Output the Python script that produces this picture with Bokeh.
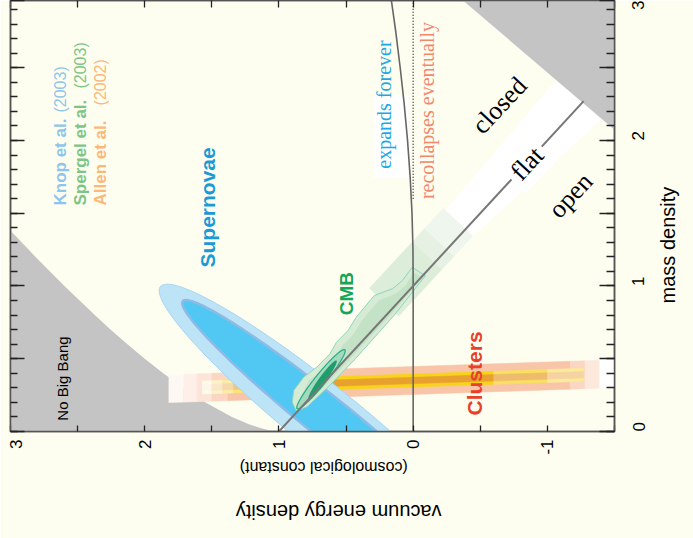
import numpy as np
from math import pi
from bokeh.plotting import figure
from bokeh.models import Range1d, LinearAxis, FixedTicker, Label, CustomJSTickFormatter
from bokeh.embed import file_html
from bokeh.resources import INLINE

# ---------------- data (x = vacuum energy density, y = mass density) ----------------
nobang_om = [0.0, 0.005, 0.01, 0.02, 0.05, 0.1, 0.2, 0.3, 0.4, 0.5, 0.6, 0.7, 0.8, 1.0, 1.2, 1.36, 1.4]
nobang_ol = [1.0, 1.051, 1.08, 1.124, 1.224, 1.35, 1.547, 1.713, 1.862, 2.0, 2.129, 2.253, 2.372, 2.598, 2.813, 2.98, 3.018]
recol_om = [0.0, 1.0, 1.25, 1.5, 1.75, 2.0, 2.25, 2.5, 2.75, 3.0]
recol_ol = [0.0, 0.0, 0.0015, 0.0086, 0.0225, 0.0419, 0.0667, 0.0966, 0.130, 0.168]
dotted_om = [1.6, 3.0]
dotted_ol = [0.0, 0.0]
flat_om = [0.0, 2.27]
flat_ol = [1.0, -1.27]
grey2_ol = [-0.30, -1.60]
grey2_om = [3.018, 1.995]

sn_outer = {"c": (0.645, 0.0756), "a": (-1.238, -0.920), "b": (0.151, -0.177)}
sn_inner = {"c": (0.6225, 0.0825), "a": (-1.094, -0.813), "b": (0.0962, -0.1129)}

cmb_outer_ol = [0.901, 0.890, 0.816, 0.718, 0.620, 0.571, 0.485, 0.424, 0.363, 0.289, 0.154, 0.080, 0.007,
                -0.09, 0.14, 0.43, 0.63, 0.79, 0.87]
cmb_outer_om = [0.201, 0.282, 0.373, 0.442, 0.534, 0.614, 0.694, 0.786, 0.854, 0.935, 0.981, 1.038, 1.129,
                1.07, 0.80, 0.50, 0.31, 0.17, 0.14]
cmb_inner_ol = [0.843, 0.777, 0.681, 0.586, 0.527, 0.446, 0.387, 0.328, 0.255, 0.130, 0.056, -0.003,
                -0.07, 0.17, 0.47, 0.67, 0.78]
cmb_inner_om = [0.227, 0.351, 0.419, 0.509, 0.591, 0.667, 0.756, 0.825, 0.900, 0.948, 1.003, 1.093,
                1.06, 0.80, 0.50, 0.30, 0.20]
wmap_outer = {"c": (0.687, 0.359), "a": (-0.178, 0.203), "b": (-0.0313, -0.024)}
wmap_core = {"c": (0.675, 0.356), "a": (-0.104, 0.1316), "b": (-0.0207, -0.0143)}
ext_t = [0.70, 1.30, 1.47, 1.73]
ext_colors = ["#dcedd9", "#e6f1e3", "#eff6ed"]
ext_s = [0.90, 1.31]
white_t = [1.73, 3.6]
white_s_lo = [0.90, 0.72]
white_s_hi = [1.28, 1.36]

cl_center_ol = [1.674, -1.342]
cl_center_om = [0.299, 0.392]
cl_pink_edges = [1.82, 1.71, 1.61, 1.50, 1.38, -1.17, -1.28, -1.39, -1.55]
cl_pink_fade = [0.12, 0.25, 0.45, 0.70, 1.0, 0.70, 0.40, 0.0]
cl_core_edges = [1.57, 1.50, 1.42, 1.34, 1.25, 1.15, -0.60, -1.00, -1.27]
cl_core_fade = [0.10, 0.25, 0.40, 0.60, 0.80, 1.0, 0.70, 0.45]

box_ol = [0.291, 0.034]
box_om = [1.746, 2.309]

x_label_ticks = [2.96, 2, 1, 0, -1]          # "3" sits just inside the left edge
x_all_ticks = [3, 2.5, 2, 1.5, 1, 0.5, 0, -0.5, -1, -1.5]
y_ticks = [0.0, 0.5, 1.0, 1.5, 2.0, 2.5, 2.96]  # "3" sits at the (cut) top edge
y_minor = [round(0.1 * i, 1) for i in range(0, 30)]

BG = "#fefef0"
GREY = "#c4c4c4"

def ellipse_pts(e, n=160):
    t = np.linspace(0, 2 * np.pi, n)
    x = e["c"][0] + np.cos(t) * e["a"][0] + np.sin(t) * e["b"][0]
    y = e["c"][1] + np.cos(t) * e["a"][1] + np.sin(t) * e["b"][1]
    return list(x), list(y)

def mix(hexc, f):
    r, g, b = int(hexc[1:3], 16), int(hexc[3:5], 16), int(hexc[5:7], 16)
    return "#%02x%02x%02x" % (round(255 + (r - 255) * f), round(255 + (g - 255) * f), round(255 + (b - 255) * f))

def st_to_xy(s, t):
    ol = (s - t) / 1.873
    return ol, s - ol

def cl_mid(ol):
    k = (cl_center_om[1] - cl_center_om[0]) / (cl_center_ol[1] - cl_center_ol[0])
    return cl_center_om[0] + (ol - cl_center_ol[0]) * k

p = figure(width=693, height=538, x_range=Range1d(3, -1.5), y_range=Range1d(0, 2.962),
           output_backend="svg", toolbar_location=None,
           x_axis_location=None, y_axis_location=None,
           min_border_left=10, min_border_right=72, min_border_top=0, min_border_bottom=107)
p.background_fill_color = BG
p.border_fill_color = BG
p.outline_line_color = "#555555"
p.outline_line_width = 1.5
p.grid.visible = False

p.patch(nobang_ol + [3.5, 3.5], nobang_om + [nobang_om[-1], -0.1], fill_color=GREY, line_color=None)
p.patch([nobang_ol[0], 3.5, 3.5], [-0.1, -0.1, 0.0], fill_color=GREY, line_color=None)

wx, wy = [], []
for s, t in [(white_s_lo[0], white_t[0]), (white_s_lo[1], white_t[1]), (white_s_hi[1], white_t[1]), (white_s_hi[0], white_t[0])]:
    a, b = st_to_xy(s, t)
    wx.append(a); wy.append(b)
p.patch(wx, wy, fill_color="white", line_color=None)
exs, eys = [], []
for i in range(len(ext_colors)):
    qx, qy = [], []
    for s, t in [(ext_s[0], ext_t[i]), (ext_s[0], ext_t[i + 1]), (ext_s[1], ext_t[i + 1]), (ext_s[1], ext_t[i])]:
        a, b = st_to_xy(s, t)
        qx.append(a); qy.append(b)
    exs.append(qx); eys.append(qy)
p.patches(exs, eys, fill_color=ext_colors, line_color=ext_colors, line_width=0.5)

p.patch(grey2_ol + [grey2_ol[1], grey2_ol[0]], grey2_om + [3.2, 3.2], fill_color=GREY, line_color=None)

def band(edges, fades, half, color):
    xs, ys, cs = [], [], []
    for i in range(len(fades)):
        a, b = edges[i], edges[i + 1]
        xs.append([a, b, b, a])
        ys.append([cl_mid(a) - half, cl_mid(b) - half, cl_mid(b) + half, cl_mid(a) + half])
        cs.append(mix(color, fades[i]))
    p.patches(xs, ys, fill_color=cs, line_color=cs, line_width=0.5)

band(cl_pink_edges, cl_pink_fade, 0.096, "#f9c5a8")
band(cl_core_edges, cl_core_fade, 0.045, "#f7d31c")
band(cl_core_edges, cl_core_fade, 0.022, "#e8a02e")

x, y = ellipse_pts(sn_outer)
p.patch(x, y, fill_color="#bde3f7", line_color="#a6d5f1", line_width=1)
x, y = ellipse_pts(sn_inner)
p.patch(x, y, fill_color="#50c8f3", line_color="#8dbbe6", line_width=2.5)

p.patch(cmb_outer_ol, cmb_outer_om, fill_color="#d6ebd3", line_color="#8fd4c0", line_width=1)
p.patch(cmb_inner_ol, cmb_inner_om, fill_color="#c4e3c6", line_color=None)
x, y = ellipse_pts(wmap_outer)
p.patch(x, y, fill_color="#a3dabd", line_color="#25ad88", line_width=1.2)
x, y = ellipse_pts(wmap_core)
p.patch(x, y, fill_color="#1f9d6d", line_color=None)

p.quad(left=[box_ol[0]], right=[box_ol[1]], bottom=[box_om[0]], top=[box_om[1]], fill_color="white", line_color=None)

p.line(recol_ol, recol_om, line_color="#666666", line_width=1.6)
p.line(dotted_ol, dotted_om, line_color="#333333", line_width=1.4, line_dash="1 2")
p.line(flat_ol, flat_om, line_color="#777777", line_width=2)

# ---------------- axes ----------------
blank = CustomJSTickFormatter(code="return '';")
intfmt = CustomJSTickFormatter(code="return (Math.abs(tick - Math.round(tick)) < 0.06) ? String(Math.round(tick)) : '';")

common = dict(axis_line_color="#555555", axis_line_width=1.5,
              major_tick_line_color="#222222", major_tick_line_width=1.3,
              minor_tick_line_color="#222222", minor_tick_line_width=1.3,
              major_tick_out=0, minor_tick_out=0)

bottom = LinearAxis(ticker=FixedTicker(ticks=x_label_ticks, minor_ticks=x_all_ticks), formatter=intfmt,
                    major_tick_in=0, minor_tick_in=6, major_label_orientation=pi / 2,
                    major_label_text_font="Liberation Sans", major_label_text_font_size="17px",
                    major_label_text_color="black", major_label_standoff=8, **common)
bottom.major_tick_line_color = None
p.add_layout(bottom, "below")
top = LinearAxis(ticker=FixedTicker(ticks=x_all_ticks, minor_ticks=[]), formatter=blank,
                 major_tick_in=7, major_label_text_font_size="0px", major_label_standoff=0, **common)
p.add_layout(top, "above")
right = LinearAxis(ticker=FixedTicker(ticks=y_ticks, minor_ticks=y_minor), formatter=intfmt,
                   major_tick_in=15, minor_tick_in=8, major_label_orientation=pi / 2,
                   major_label_text_font="Liberation Sans", major_label_text_font_size="17px",
                   major_label_text_color="black", major_label_standoff=24, **common)
p.add_layout(right, "right")
left = LinearAxis(ticker=FixedTicker(ticks=y_ticks, minor_ticks=y_minor), formatter=blank,
                  major_tick_in=14, minor_tick_in=7, major_label_text_font_size="0px",
                  major_label_standoff=0, **common)
p.add_layout(left, "left")

def title_axis(side, pos, text, size, orient, standoff):
    ax = LinearAxis(ticker=FixedTicker(ticks=[pos], minor_ticks=[]),
                    formatter=CustomJSTickFormatter(code="return %r;" % text),
                    axis_line_color=None, major_tick_line_color=None, minor_tick_line_color=None,
                    major_label_orientation=orient, major_label_text_font="Liberation Sans",
                    major_label_text_font_size=f"{size}px", major_label_text_color="black",
                    major_label_standoff=standoff)
    p.add_layout(ax, side)

title_axis("below", 1.292, "(cosmological constant)", 16, pi, 4)
title_axis("below", 1.321, "vacuum energy density", 20, pi, 18)
title_axis("right", 0.88, "mass density", 20, pi / 2, 9)

# ---------------- labels ----------------
def lab(text, x, y, size, color, angle=0.0, font="Liberation Sans", style="normal",
        align="center", baseline="middle", **kw):
    p.add_layout(Label(x=x, y=y, text=text, angle=angle, text_font=font,
                       text_font_size=f"{size}px", text_color=color, text_font_style=style,
                       text_align=align, text_baseline=baseline, **kw))

lab("Supernovae", 1.535, 1.540, 21, "#1a9ad7", angle=pi / 2, style="bold")
lab("CMB", 0.497, 0.948, 19, "#17a55a", angle=pi / 2, style="bold")
lab("Clusters", -0.460, 0.399, 21, "#e8402a", angle=pi / 2, style="bold")
lab("No Big Bang", 2.609, 0.364, 15, "black", angle=pi / 2)

lab("Knop et al.", 2.628, 1.553, 17, "#8ec5ea", angle=pi / 2, style="bold", align="left")
lab("(2003)", 2.628, 2.192, 16, "#8ec5ea", angle=pi / 2, align="left")
lab("Spergel et al.", 2.481, 1.553, 17, "#7cc587", angle=pi / 2, style="bold", align="left")
lab("(2003)", 2.481, 2.357, 16, "#7cc587", angle=pi / 2, align="left")
lab("Allen et al.", 2.330, 1.553, 17, "#fdb877", angle=pi / 2, style="bold", align="left")
lab("(2002)", 2.330, 2.241, 16, "#fdb877", angle=pi / 2, align="left")

lab("expands forever", 0.215, 2.247, 20, "#1aa8e6", angle=pi / 2, font="Liberation Serif")
lab("recollapses eventually", -0.106, 2.206, 20, "#f4876b", angle=pi / 2, font="Liberation Serif")
lab("closed", -0.643, 2.241, 26, "black", angle=0.82, font="Liberation Serif")
lab("flat", -0.849, 1.842, 26, "black", angle=0.82, font="Liberation Serif",
    background_fill_color="white", padding=5)
lab("open", -1.173, 1.622, 26, "black", angle=0.82, font="Liberation Serif")

open("out.html", "w").write(file_html(p, INLINE))
